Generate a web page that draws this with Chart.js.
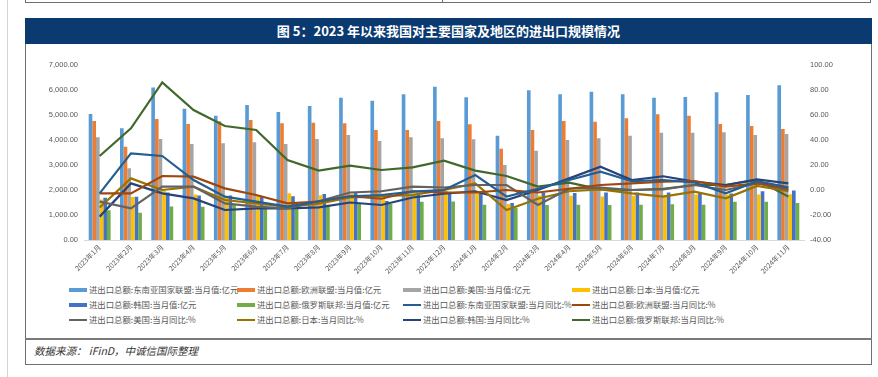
<!DOCTYPE html>
<html>
<head>
<meta charset="utf-8">
<script src="https://cdn.jsdelivr.net/npm/chart.js@4"></script>
<style>
  body { margin: 0; width: 878px; height: 377px; background: #fff; overflow: hidden; position: relative; font-family: "Liberation Sans", "Noto Sans CJK SC", sans-serif; }
  .linea-izq { position: absolute; left: 7px; top: 0; width: 1px; height: 377px; background: #d4d4d4; }
  .caja-sup { position: absolute; left: 25px; top: -12px; width: 846px; height: 15px; box-sizing: border-box; border: 1px solid #6f6f6f; }
  .div-sup { position: absolute; left: 442px; top: 0; width: 1px; height: 3px; background: #6f6f6f; }
  .marco { position: absolute; left: 25px; top: 18px; width: 847px; height: 347px; box-sizing: border-box; border: 1.5px solid #6f6f6f; }
  .titulo { position: absolute; left: 25px; top: 18px; width: 847px; height: 26px; background: #0b3a71; color: #fff;
            font-family: "Noto Sans CJK SC", sans-serif; font-weight: bold; font-size: 13px; line-height: 26px; text-align: center; }
  .lienzo { position: absolute; left: 26px; top: 44px; width: 845px; height: 236px; }
  .leyenda { position: absolute; left: 0; top: 0; }
  .item { position: absolute; height: 12px; font-family: "Noto Sans CJK SC", sans-serif; font-size: 8.4px; color: #595959; line-height: 12px; white-space: nowrap; }
  .item span.sw { display: inline-block; width: 18px; vertical-align: middle; margin-right: 2px; position: relative; top: -1px; }
  .sep { position: absolute; left: 25px; top: 338px; width: 847px; height: 1.5px; background: #7a7a7a; }
  .fuente { position: absolute; left: 34px; top: 343px; font-family: "Noto Sans CJK SC", sans-serif; font-style: italic; font-size: 10.5px; color: #333; }
</style>
</head>
<body>
<div class="linea-izq"></div>
<div class="caja-sup"></div>
<div class="div-sup"></div>
<div class="marco"></div>
<div class="titulo">图 5：2023 年以来我国对主要国家及地区的进出口规模情况</div>
<div class="lienzo"><canvas id="grafico"></canvas></div>
<div class="leyenda" id="leyenda"></div>
<div class="sep"></div>
<div class="fuente">数据来源：&nbsp;iFinD，中诚信国际整理</div>

<script>
/* ===== DATOS ===== */
const meses = ['2023年1月','2023年2月','2023年3月','2023年4月','2023年5月','2023年6月','2023年7月','2023年8月',
  '2023年9月','2023年10月','2023年11月','2023年12月','2024年1月','2024年2月','2024年3月','2024年4月',
  '2024年5月','2024年6月','2024年7月','2024年8月','2024年9月','2024年10月','2024年11月'];

// 当月值 (亿元)
const valAsean = [5040, 4470, 6100, 5250, 4970, 5400, 5120, 5360, 5690, 5570, 5830, 6130, 5710, 4170, 5990, 5830, 5930, 5830, 5690, 5720, 5910, 5800, 6190];
const valUE    = [4760, 3730, 4840, 4640, 4750, 4800, 4670, 4690, 4670, 4400, 4400, 4760, 4630, 3650, 4400, 4760, 4730, 4870, 5030, 4970, 4640, 4560, 4440];
const valEEUU  = [4110, 2870, 4040, 3840, 3870, 3910, 3840, 4040, 4200, 3960, 4110, 4070, 4030, 3000, 3570, 4000, 4070, 4170, 4290, 4290, 4310, 4200, 4240];
const valJapon = [1620, 1720, 1970, 1820, 1700, 1760, 1870, 1790, 1850, 1800, 1880, 1960, 1880, 1440, 1780, 1770, 1740, 1770, 1780, 1820, 1820, 1820, 1830];
const valCorea = [1690, 1730, 1900, 1780, 1780, 1760, 1750, 1840, 1900, 1560, 1880, 1880, 1900, 1480, 1900, 1880, 1900, 1900, 1900, 1900, 1860, 1950, 1980];
const valRusia = [1190, 1090, 1340, 1330, 1420, 1380, 1400, 1410, 1480, 1440, 1530, 1540, 1410, 1280, 1400, 1410, 1400, 1410, 1430, 1410, 1530, 1530, 1480];

// 当月同比 (%)
const yoyAsean = [-2.7, 29.3, 27.2, 8, -5.3, -9.3, -13.3, -9, -5, -4, -1.3, 0, 12, -5.3, 1, 8, 14.7, 7, 8, 6, -2.7, 7, 2.1];
const yoyUE    = [-2.7, -2.7, 11.2, 10.7, 1.3, -4, -10.7, -9.3, -5, -7, -1, -2, -2, 0, -2, 1, 4, 5.3, 6.7, 7.2, 2.7, 5.3, 1.3];
const yoyEEUU  = [-9.3, -14.7, 2.7, 2.7, -10.7, -13.3, -14.7, -9, -2, -1, 2.7, 2, 4, 4, -12, 1, 2, 0, 0.5, 4, 0, 5.5, 0];
const yoyJapon = [-14, 9.3, 0, 2.7, -8, -10.7, -13.3, -11, -6, -5, -4, 0, 5.3, -16, -7, -1, 0.5, -2.7, -5.3, -1.3, -6.7, 3.2, -1];
const yoyCorea = [-21.3, 5.3, -2.7, -6.7, -16, -14.7, -14.7, -13.9, -10, -12, -6, -3, -1, -8, 0, 9.3, 18.7, 8, 11, 6.7, 4, 8.5, 5.3];
const yoyRusia = [27.2, 49.3, 86.1, 64, 51.2, 48, 24, 15.5, 19.5, 16, 18.1, 23.5, 15.5, 11.2, 2.7, 5.9, 0.5, 0, 1, 4, 4, 8, -5.3];

const ejeIzq = { min: 0, max: 7000, paso: 1000 };
const ejeDer = { min: -40, max: 100, paso: 20 };

/* ===== SERIES ===== */
const barra = (label, data, color) => ({ type: 'bar', label, data, backgroundColor: color, yAxisID: 'y', order: 2,
  barPercentage: 1, categoryPercentage: 0.7 });
const linea = (label, data, color) => ({ type: 'line', label, data, borderColor: color, backgroundColor: color, yAxisID: 'y1', order: 1,
  borderWidth: 2.2, pointRadius: 0, tension: 0, fill: false });

const series = [
  barra('进出口总额:东南亚国家联盟:当月值:亿元', valAsean, '#5B9BD5'),
  barra('进出口总额:欧洲联盟:当月值:亿元', valUE, '#ED7D31'),
  barra('进出口总额:美国:当月值:亿元', valEEUU, '#A5A5A5'),
  barra('进出口总额:日本:当月值:亿元', valJapon, '#FFC000'),
  barra('进出口总额:韩国:当月值:亿元', valCorea, '#4472C4'),
  barra('进出口总额:俄罗斯联邦:当月值:亿元', valRusia, '#70AD47'),
  linea('进出口总额:东南亚国家联盟:当月同比:%', yoyAsean, '#255E91'),
  linea('进出口总额:欧洲联盟:当月同比:%', yoyUE, '#9E480E'),
  linea('进出口总额:美国:当月同比:%', yoyEEUU, '#636363'),
  linea('进出口总额:日本:当月同比:%', yoyJapon, '#997300'),
  linea('进出口总额:韩国:当月同比:%', yoyCorea, '#264478'),
  linea('进出口总额:俄罗斯联邦:当月同比:%', yoyRusia, '#43682B')
];

const fmt = v => v.toLocaleString('en-US', { minimumFractionDigits: 2, maximumFractionDigits: 2 });
const fuenteEje = { family: '"Liberation Sans", "Noto Sans CJK SC"', size: 7.5 };

/* ===== GRAFICO ===== */
const grafico = new Chart(document.getElementById('grafico'), {
  data: { labels: meses, datasets: series },
  options: {
    responsive: true,
    maintainAspectRatio: false,
    animation: false,
    layout: { padding: { top: 21, left: 0, right: 0, bottom: 0 } },
    plugins: { legend: { display: false }, tooltip: { enabled: false } },
    scales: {
      x: {
        offset: true,
        grid: { display: false, drawTicks: false },
        border: { display: true, color: '#d9d9d9', width: 1 },
        ticks: { autoSkip: false, maxRotation: 45, minRotation: 45, color: '#595959', padding: 3,
                 font: { family: '"Noto Sans CJK SC"', size: 7 } },
        afterFit: s => { s.height = 40; }
      },
      y: {
        position: 'left', min: ejeIzq.min, max: ejeIzq.max,
        grid: { display: false, drawTicks: false }, border: { display: false },
        ticks: { stepSize: ejeIzq.paso, color: '#595959', padding: 6, font: fuenteEje, callback: v => fmt(v) },
        afterFit: s => { s.width = 58; }
      },
      y1: {
        position: 'right', min: ejeDer.min, max: ejeDer.max,
        grid: { display: false, drawTicks: false }, border: { display: false },
        ticks: { stepSize: ejeDer.paso, color: '#595959', padding: 6, font: fuenteEje, callback: v => fmt(v) },
        afterFit: s => { s.width = 67; }
      }
    }
  }
});

/* ===== LEYENDA (4 columnas x 3 filas) ===== */
const colX = [69, 237, 403, 572];
const filaY = [283, 298, 313];
const ley = document.getElementById('leyenda');
series.forEach((ds, i) => {
  const it = document.createElement('div');
  it.className = 'item';
  it.style.left = colX[i % 4] + 'px';
  it.style.top = filaY[Math.floor(i / 4)] + 'px';
  const sw = document.createElement('span');
  sw.className = 'sw';
  sw.style.height = ds.type === 'bar' ? '4px' : '2px';
  sw.style.background = ds.type === 'bar' ? ds.backgroundColor : ds.borderColor;
  it.appendChild(sw);
  it.appendChild(document.createTextNode(ds.label));
  ley.appendChild(it);
});
</script>
</body>
</html>
